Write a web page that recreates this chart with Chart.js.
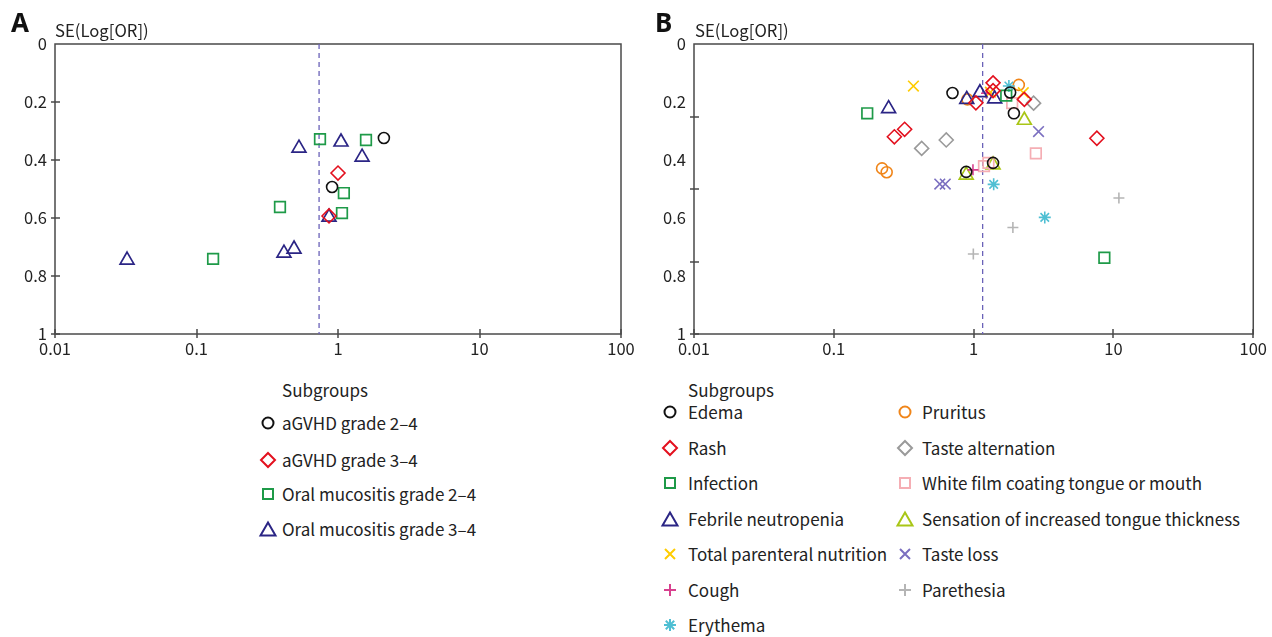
<!DOCTYPE html>
<html><head><meta charset="utf-8">
<script src="https://cdn.jsdelivr.net/npm/chart.js@4.4.1/dist/chart.umd.min.js"></script>
<style>
body{margin:0;background:#fff;width:1272px;height:637px;overflow:hidden;position:relative;font-family:"Noto Sans CJK JP","Noto Sans",sans-serif;color:#222;}
.abs{position:absolute;white-space:nowrap;}
.letter{font-weight:bold;font-size:26px;font-family:"Noto Sans","DejaVu Sans",sans-serif;color:#111;line-height:30px}
.ytitle{font-size:16.7px;line-height:20px}
.lt{font-size:17px;line-height:20px}
canvas{position:absolute;top:0}
svg{position:absolute;overflow:visible}
</style></head><body>
<canvas id="cA" width="640" height="372" style="left:0"></canvas>
<canvas id="cB" width="632" height="372" style="left:640px"></canvas>
<div class="abs letter" style="left:11px;top:7px">A</div>
<div class="abs letter" style="left:655px;top:7px">B</div>
<div class="abs ytitle" style="left:55px;top:20px">SE(Log[OR])</div>
<div class="abs ytitle" style="left:695px;top:20px">SE(Log[OR])</div>
<div id="legA"></div>
<div id="legB"></div>
<script>
// ---- shared ticks ----
const orTicks = [0.01, 0.1, 1, 10, 100];
const seTicks = [0, 0.2, 0.4, 0.6, 0.8, 1];
const seTickMarksA = [0.2, 0.4, 0.6, 0.8, 1];
const seTickMarksB = [0.25, 0.5, 0.75, 1];

// ---- Panel A: [OR, SE] pairs ----
const labelsA = ["aGVHD grade 2–4", "aGVHD grade 3–4", "Oral mucositis grade 2–4", "Oral mucositis grade 3–4"];
const aGvhd24 = [[2.11, 0.324], [0.908, 0.493]];
const aGvhd34 = [[1.00, 0.445], [0.864, 0.593]];
const oralMuc24 = [[0.746, 0.328], [1.577, 0.331], [1.10, 0.514], [1.067, 0.583], [0.389, 0.562], [0.131, 0.741]];
const oralMuc34 = [[0.53, 0.359], [1.05, 0.338], [1.48, 0.390], [0.864, 0.597], [0.489, 0.707], [0.415, 0.721], [0.0323, 0.745]];
const pooledA = 0.735;

// ---- Panel B: [OR, SE] pairs ----
const labelsB = ["Edema", "Rash", "Infection", "Febrile neutropenia", "Total parenteral nutrition", "Cough", "Erythema",
  "Pruritus", "Taste alternation", "White film coating tongue or mouth", "Sensation of increased tongue thickness", "Taste loss", "Parethesia"];
const edema = [[0.706, 0.169], [1.825, 0.167], [1.94, 0.239], [0.885, 0.441], [1.377, 0.410]];
const rash = [[1.377, 0.134], [1.377, 0.161], [1.038, 0.203], [2.305, 0.191], [0.271, 0.320], [0.321, 0.294], [7.61, 0.325]];
const infection = [[0.1734, 0.239], [1.711, 0.178], [8.61, 0.737]];
const febrile = [[0.2466, 0.223], [0.893, 0.191], [1.109, 0.168], [1.414, 0.189]];
const tpn = [[0.371, 0.145], [1.318, 0.166], [2.266, 0.168]];
const cough = [[1.236, 0.170], [0.989, 0.434]];
const erythema = [[1.787, 0.145], [1.391, 0.484], [3.227, 0.598]];
const pruritus = [[0.903, 0.191], [2.104, 0.141], [0.2213, 0.429], [0.2388, 0.442]];
const tasteAlt = [[2.685, 0.204], [0.425, 0.360], [0.637, 0.331]];
const whiteFilm = [[1.887, 0.204], [2.787, 0.377], [1.186, 0.421], [1.276, 0.410]];
const tongueThick = [[2.305, 0.263], [0.885, 0.452], [1.377, 0.417]];
const tasteLoss = [[2.912, 0.302], [0.5725, 0.483], [0.627, 0.483]];
const parethesia = [[10.94, 0.531], [1.909, 0.633], [0.995, 0.724]];
const pooledB = 1.16;

// ---- styles ----
const C = {black:'#111111', red:'#e3101e', green:'#1e9a48', navy:'#2b2585', yellow:'#ffcc00', magenta:'#d8418f',
  cyan:'#4fbfd3', orange:'#f08519', grey:'#9a9a9a', pink:'#f5aeb4', ygreen:'#a9c617', purple:'#7b6fc0', lgrey:'#b5b5b5'};
const R = {circle:5.5, rectRot:7, rect:7.5, triangle:8, crossRot:7.5, cross:5.5, star:6};

const seriesA = [
  {data:aGvhd24, color:C.black, style:'circle'},
  {data:aGvhd34, color:C.red, style:'rectRot'},
  {data:oralMuc24, color:C.green, style:'rect'},
  {data:oralMuc34, color:C.navy, style:'triangle'}];
const seriesB = [
  {data:edema, color:C.black, style:'circle'},
  {data:rash, color:C.red, style:'rectRot'},
  {data:infection, color:C.green, style:'rect'},
  {data:febrile, color:C.navy, style:'triangle'},
  {data:tpn, color:C.yellow, style:'crossRot'},
  {data:cough, color:C.magenta, style:'cross'},
  {data:erythema, color:C.cyan, style:'star'},
  {data:pruritus, color:C.orange, style:'circle'},
  {data:tasteAlt, color:C.grey, style:'rectRot'},
  {data:whiteFilm, color:C.pink, style:'rect'},
  {data:tongueThick, color:C.ygreen, style:'triangle'},
  {data:tasteLoss, color:C.purple, style:'crossRot'},
  {data:parethesia, color:C.lgrey, style:'cross'}];

const framePlugin = {
  id: 'frame',
  beforeDatasetsDraw(chart, args, opts) {
    const {ctx, chartArea: a, scales: {x, y}} = chart;
    ctx.save();
    ctx.strokeStyle = '#4a4a4a'; ctx.lineWidth = 1.5;
    ctx.strokeRect(a.left, a.top, a.right - a.left, a.bottom - a.top);
    ctx.beginPath();
    opts.yMarks.forEach(v => { const p = Math.round(y.getPixelForValue(v)); ctx.moveTo(a.left - 4, p); ctx.lineTo(a.left + 5, p); });
    opts.xMarks.forEach(v => { const p = Math.round(x.getPixelForValue(v)); ctx.moveTo(p, a.bottom - 5); ctx.lineTo(p, a.bottom + 4); });
    ctx.stroke();
    ctx.restore();
  }
};

function makeChart(id, series, labels, pooled, yMarks, yWidth, rightPad) {
  const datasets = series.map((s, i) => ({
    type: 'scatter', label: labels[i],
    data: s.data.map(p => ({x: p[0], y: p[1]})),
    pointStyle: s.style, pointRadius: R[s.style], pointHoverRadius: R[s.style],
    borderColor: s.color, backgroundColor: 'rgba(0,0,0,0)', pointBorderWidth: s.style === 'triangle' || s.style === 'rect' ? 1.7 : 1.6,
    order: i
  }));
  datasets.push({type: 'line', label: 'pooled', data: [{x: pooled, y: 0}, {x: pooled, y: 1}],
    borderColor: '#6a62b8', borderWidth: 1.3, borderDash: [5, 4], pointRadius: 0, order: 100});
  return new Chart(document.getElementById(id), {
    type: 'scatter',
    data: {datasets},
    options: {
      responsive: false, animation: false, devicePixelRatio: 1,
      layout: {padding: {left: 0, top: 44, right: rightPad, bottom: 8}},
      plugins: {legend: {display: false}, tooltip: {enabled: false}, frame: {yMarks, xMarks: orTicks}},
      scales: {
        x: {type: 'logarithmic', min: 0.01, max: 100,
          afterBuildTicks: s => { s.ticks = orTicks.map(v => ({value: v})); },
          afterFit: s => { s.height = 30; },
          grid: {display: false, drawTicks: false}, border: {display: false},
          ticks: {autoSkip: false, maxRotation: 0, padding: 5, color: '#222',
            font: {family: '"Noto Sans CJK JP", "Noto Sans", sans-serif', size: 16.5},
            callback: v => String(v)}},
        y: {type: 'linear', min: 0, max: 1, reverse: true,
          afterBuildTicks: s => { s.ticks = seTicks.map(v => ({value: v})); },
          afterFit: s => { s.width = yWidth; },
          grid: {display: false, drawTicks: false}, border: {display: false},
          ticks: {padding: 8, color: '#222',
            font: {family: '"Noto Sans CJK JP", "Noto Sans", sans-serif', size: 16.5},
            callback: v => String(+v.toFixed(1))}}
      }
    },
    plugins: [framePlugin]
  });
}
makeChart('cA', seriesA, labelsA, pooledA, seTickMarksA, 55, 19);
makeChart('cB', seriesB, labelsB, pooledB, seTickMarksB, 54, 12);

// ---- HTML legends ----
function markerSvg(style, color, cx, cy) {
  const st = `fill="none" stroke="${color}" stroke-width="2"`;
  let inner = '';
  if (style === 'circle') inner = `<circle cx="8" cy="8" r="5.5" ${st}/>`;
  else if (style === 'rectRot') inner = `<polygon points="8,1 15,8 8,15 1,8" ${st}/>`;
  else if (style === 'rect') inner = `<rect x="3" y="3" width="10" height="10" ${st}/>`;
  else if (style === 'triangle') inner = `<polygon points="8,1.5 15.5,14.5 0.5,14.5" ${st}/>`;
  else if (style === 'crossRot') inner = `<path d="M3 3L13 13M13 3L3 13" ${st}/>`;
  else if (style === 'cross') inner = `<path d="M8 2V14M2 8H14" ${st}/>`;
  else if (style === 'star') inner = `<path d="M8 2V14M2 8H14M3.8 3.8L12.2 12.2M12.2 3.8L3.8 12.2" ${st}/>`;
  return `<svg width="16" height="16" style="left:${cx - 8}px;top:${cy - 8}px">${inner}</svg>`;
}
function buildLegend(elId, series, labels, items, title) {
  let h = `<div class="abs lt" style="left:${title[0]}px;top:${title[1] - 10}px">Subgroups</div>`;
  series.forEach((s, i) => {
    const [mx, tx, y] = items[i];
    h += markerSvg(s.style, s.color, mx, y);
    h += `<div class="abs lt" style="left:${tx}px;top:${y - 10}px">${labels[i]}</div>`;
  });
  document.getElementById(elId).innerHTML = h;
}
const rowsA = [423, 460, 494, 529];
buildLegend('legA', seriesA, labelsA, rowsA.map(y => [268, 282, y]), [282, 390]);
const rowsB = [412, 448, 483, 519, 554, 590, 625];
const itemsB = rowsB.map(y => [670, 688, y]).concat(rowsB.slice(0, 6).map(y => [905, 922, y]));
buildLegend('legB', seriesB, labelsB, itemsB, [688, 390]);
</script>
</body></html>
